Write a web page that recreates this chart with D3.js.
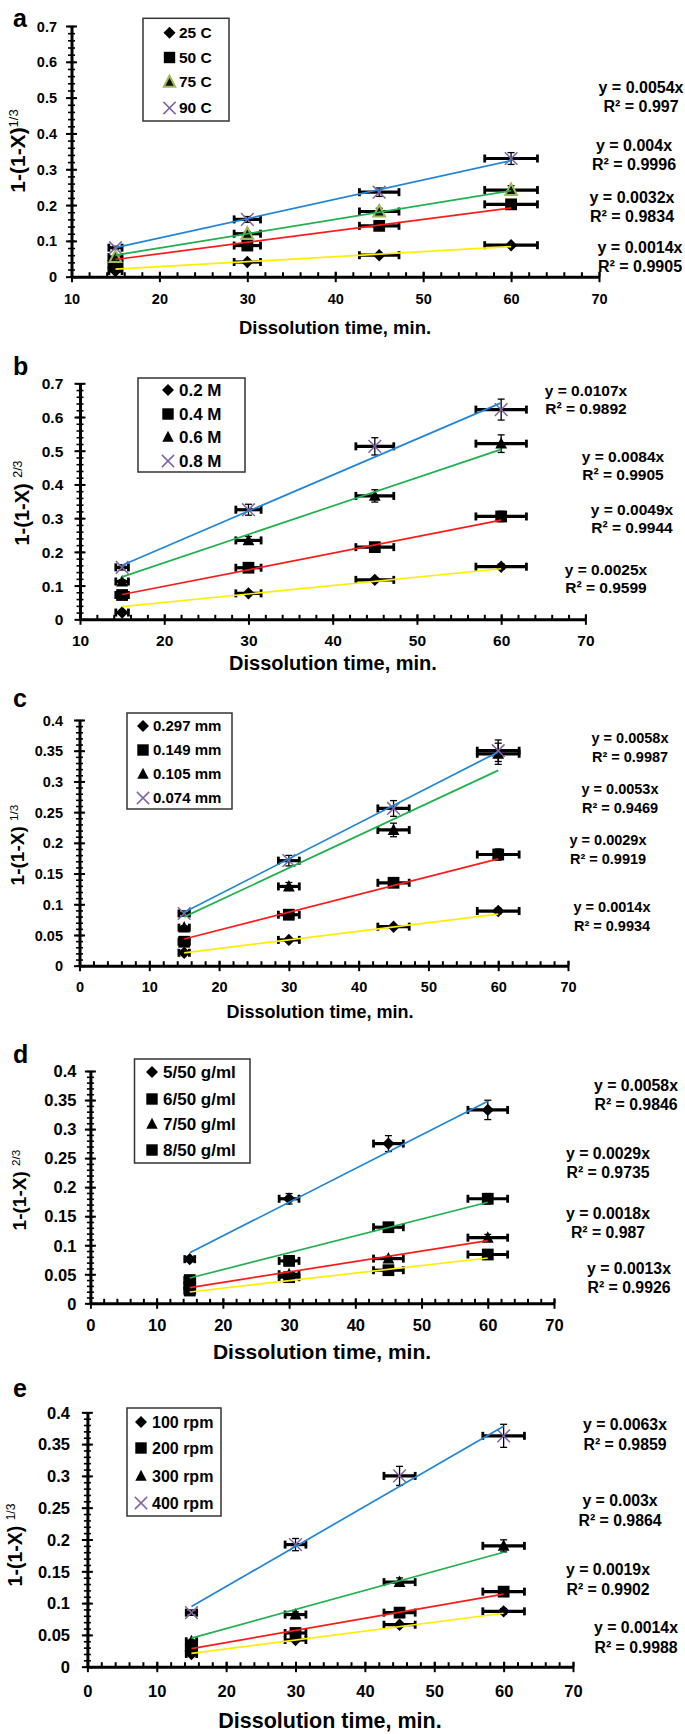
<!DOCTYPE html>
<html><head><meta charset="utf-8">
<script src="https://cdn.jsdelivr.net/npm/d3@7"></script>
<style>
body{margin:0;background:#fff}
svg{display:block}
text{font-family:"Liberation Sans",Arial,sans-serif;font-weight:bold;fill:#000}
</style>
</head><body>
<svg id="chart" width="685" height="1734"></svg>
<script>
// ---------- DATA ----------
const timeMin = [15, 30, 45, 60];
const xTicksAB = [10, 20, 30, 40, 50, 60, 70];
const xTicksCDE = [0, 10, 20, 30, 40, 50, 60, 70];
const yTicksAB = [0, 0.1, 0.2, 0.3, 0.4, 0.5, 0.6, 0.7];
const yTicksCDE = [0, 0.05, 0.1, 0.15, 0.2, 0.25, 0.3, 0.35, 0.4];
const xErrPercent = 5;
const yErrPercent = 5;

// panel a : temperature
const aNames = ["25 C", "50 C", "75 C", "90 C"];
const a25 = [0.016, 0.041, 0.060, 0.088];
const a50 = [0.035, 0.087, 0.142, 0.202];
const a75 = [0.055, 0.120, 0.182, 0.242];
const a90 = [0.081, 0.160, 0.236, 0.330];
const aSlope = [0.0014, 0.0032, 0.004, 0.0054];
const aR2 = ["0.9905", "0.9834", "0.9996", "0.997"];

// panel b : acid concentration
const bNames = ["0.2 M", "0.4 M", "0.6 M", "0.8 M"];
const b02 = [0.020, 0.077, 0.117, 0.156];
const b04 = [0.072, 0.153, 0.214, 0.305];
const b06 = [0.112, 0.234, 0.366, 0.521];
const b08 = [0.154, 0.325, 0.513, 0.622];
const bSlope = [0.0025, 0.0049, 0.0084, 0.0107];
const bR2 = ["0.9599", "0.9944", "0.9905", "0.9892"];

// panel c : particle size
const cNames = ["0.297 mm", "0.149 mm", "0.105 mm", "0.074 mm"];
const c297 = [0.021, 0.042, 0.0635, 0.089];
const c149 = [0.039, 0.083, 0.135, 0.181];
const c105 = [0.062, 0.129, 0.221, 0.345];
const c074 = [0.085, 0.171, 0.256, 0.350];
const cSlope = [0.0014, 0.0029, 0.0053, 0.0058];
const cR2 = ["0.9934", "0.9919", "0.9469", "0.9987"];

// panel d : solid/liquid ratio
const dNames = ["5/50 g/ml", "6/50 g/ml", "7/50 g/ml", "8/50 g/ml"];
const d5 = [0.076, 0.180, 0.275, 0.333];
const d6 = [0.040, 0.073, 0.131, 0.180];
const d7 = [0.030, 0.050, 0.077, 0.113];
const d8 = [0.022, 0.045, 0.057, 0.084];
const dSlope = [0.0058, 0.0029, 0.0018, 0.0013];
const dR2 = ["0.9846", "0.9735", "0.987", "0.9926"];

// panel e : stirring speed
const eNames = ["100 rpm", "200 rpm", "300 rpm", "400 rpm"];
const e100 = [0.020, 0.042, 0.066, 0.087];
const e200 = [0.029, 0.053, 0.085, 0.118];
const e300 = [0.040, 0.082, 0.133, 0.190];
const e400 = [0.085, 0.192, 0.300, 0.363];
const eSlope = [0.0014, 0.0019, 0.003, 0.0063];
const eR2 = ["0.9988", "0.9902", "0.9864", "0.9859"];

// ---------- STYLE / LAYOUT ----------
const YEL = "#ffee00", RED = "#ff1a1a", GRN = "#1fb14e", BLU = "#2185d6", PUR = "#8064A2";

const panels = [
 {letter:"a", names:aNames, vals:[a25,a50,a75,a90], slope:aSlope, r2:aR2,
  markers:["diamond","square","triangleOlive","x"], colors:[YEL,RED,GRN,BLU],
  xTicks:xTicksAB, yTicks:yTicksAB, yMinor:0.02, sup:"1/3", supSpace:false,
  left:71.5,right:599,top:26,bottom:276.7, tickFs:14.5, yLabGap:14.5, xLabOff:22.5,
  titleFs:18.5, xTitle:[335,328], yTitleFs:21, yTitle:[18,151], letterPos:[13,27],
  legend:{x:143,y:18.3,w:86,h:102.7,rows:[32.7,57.5,82,108],mx:169.5,tx:179,fs:15.5},
  eqFs:16, eqGap:19, eqPos:[[640,247],[632,197],[634,145],[641,87]]},
 {letter:"b", names:bNames, vals:[b02,b04,b06,b08], slope:bSlope, r2:bR2,
  markers:["diamond","square","triangle","x"], colors:[YEL,RED,GRN,BLU],
  xTicks:xTicksAB, yTicks:yTicksAB, yMinor:0.02, sup:"2/3", supSpace:true,
  left:80,right:585.4,top:383.3,bottom:619.3, tickFs:15.5, yLabGap:16.7, xLabOff:21.4,
  titleFs:20, xTitle:[333,663], yTitleFs:20, yTitle:[22,503], letterPos:[13,375],
  legend:{x:138,y:378,w:107,h:94,rows:[390,414,437,461],mx:168,tx:179,fs:17},
  eqFs:15.5, eqGap:17.5, eqPos:[[606,570],[632,510],[623,457],[586,391]]},
 {letter:"c", names:cNames, vals:[c297,c149,c105,c074], slope:cSlope, r2:cR2,
  markers:["diamond","square","triangle","x"], colors:[YEL,RED,GRN,BLU],
  xTicks:xTicksCDE, yTicks:yTicksCDE, yMinor:0.01, sup:"1/3", supSpace:true,
  left:79.5,right:568,top:720,bottom:965.7, tickFs:14.5, yLabGap:16.5, xLabOff:21,
  titleFs:18, xTitle:[320,1012], yTitleFs:19, yTitle:[17.5,845], letterPos:[13,707],
  legend:{x:127,y:713,w:105,h:96,rows:[726,750,774,798],mx:143,tx:153,fs:15},
  eqFs:14.5, eqGap:18.5, eqPos:[[612,907],[608,840],[620,789],[630,738]]},
 {letter:"d", names:dNames, vals:[d5,d6,d7,d8], slope:dSlope, r2:dR2,
  markers:["diamond","square","triangle","square"], colors:[BLU,GRN,RED,YEL],
  xTicks:xTicksCDE, yTicks:yTicksCDE, yMinor:0.01, sup:"2/3", supSpace:true,
  left:90.4,right:554,top:1071,bottom:1303.3, tickFs:16.5, yLabGap:14, xLabOff:21.7,
  titleFs:21, xTitle:[322,1352], yTitleFs:19, yTitle:[19.6,1190], letterPos:[13,1063],
  legend:{x:134.5,y:1059,w:115.5,h:104,rows:[1072,1099,1124,1150],mx:152,tx:163,fs:17},
  eqFs:15.8, eqGap:19, eqPos:[[636,1085],[608,1153],[608,1213],[629,1268]]},
 {letter:"e", names:eNames, vals:[e100,e200,e300,e400], slope:eSlope, r2:eR2,
  markers:["diamond","square","triangle","x"], colors:[YEL,RED,GRN,BLU],
  xTicks:xTicksCDE, yTicks:yTicksCDE, yMinor:0.01, sup:"1/3", supSpace:true,
  left:87.4,right:573,top:1412.3,bottom:1666.7, tickFs:16.5, yLabGap:17.4, xLabOff:25,
  titleFs:21.5, xTitle:[330,1720], yTitleFs:19.5, yTitle:[15.3,1545], letterPos:[13,1397],
  legend:{x:127,y:1408,w:94,h:108,rows:[1422,1448,1476,1503],mx:141,tx:152,fs:16},
  eqFs:15.8, eqGap:20, eqPos:[[636,1627],[608,1569],[620,1500],[625,1424]]}
];

const svg = d3.select("#chart");

function markerPath(type, r) {
  if (type === "diamond") return `M0,${-r}L${r},0L0,${r}L${-r},0Z`;
  if (type === "square") { const s = r * 0.95; return `M${-s},${-s}H${s}V${s}H${-s}Z`; }
  if (type === "triangle" || type === "triangleOlive") return `M0,${-r*1.05}L${r*0.95},${r*0.8}L${-r*0.95},${r*0.8}Z`;
  const s = r * 1.02;
  return `M${-s},${-s}L${s},${s}M${s},${-s}L${-s},${s}`;
}
function drawMarker(g, type, cx, cy, r) {
  const p = g.append("path").attr("d", markerPath(type, r)).attr("transform", `translate(${cx},${cy})`);
  if (type === "x") p.attr("fill", "none").attr("stroke", PUR).attr("stroke-width", 1.5);
  else if (type === "triangleOlive") p.attr("fill", "#111").attr("stroke", "#9BBB59").attr("stroke-width", 2);
  else p.attr("fill", "#000");
}
const fmtTick = d => String(+d.toFixed(2));

panels.forEach(p => {
  const g = svg.append("g");
  const xDom = [p.xTicks[0], p.xTicks[p.xTicks.length - 1]];
  const yDom = [p.yTicks[0], p.yTicks[p.yTicks.length - 1]];
  const x = d3.scaleLinear().domain(xDom).range([p.left, p.right]);
  const y = d3.scaleLinear().domain(yDom).range([p.bottom, p.top]);

  // minor ticks
  const xMinor = d3.range(xDom[0], xDom[1] + 0.001, 2);
  const yMinor = d3.range(yDom[0], yDom[1] + 1e-6, p.yMinor);
  g.append("g").attr("transform", `translate(0,${p.bottom})`)
    .call(d3.axisBottom(x).tickValues(xMinor).tickSize(-4.5).tickFormat(""))
    .call(s => s.select(".domain").remove())
    .selectAll("line").attr("stroke", "#000").attr("stroke-width", 2);
  g.append("g").attr("transform", `translate(${p.left},0)`)
    .call(d3.axisLeft(y).tickValues(yMinor).tickSize(3.5).tickFormat(""))
    .call(s => s.select(".domain").remove())
    .selectAll("line").attr("x1", 3.5).attr("stroke", "#000").attr("stroke-width", 1.6);

  // major axes
  const gx = g.append("g").attr("transform", `translate(0,${p.bottom})`)
    .call(d3.axisBottom(x).tickValues(p.xTicks).tickSize(5).tickSizeOuter(0).tickFormat(d3.format("d")));
  gx.attr("font-family", null).attr("font-size", null);
  gx.select(".domain").attr("stroke", "#000").attr("stroke-width", 3);
  gx.selectAll(".tick line").attr("y1", -5).attr("y2", 5.5).attr("stroke", "#000").attr("stroke-width", 2);
  gx.selectAll(".tick text").attr("y", p.xLabOff).attr("dy", "0.35em").style("font-size", p.tickFs + "px");

  const gy = g.append("g").attr("transform", `translate(${p.left},0)`)
    .call(d3.axisLeft(y).tickValues(p.yTicks).tickSize(5).tickSizeOuter(0).tickFormat(fmtTick));
  gy.attr("font-family", null).attr("font-size", null);
  gy.select(".domain").attr("stroke", "#000").attr("stroke-width", 3);
  gy.selectAll(".tick line").attr("x1", 5.5).attr("x2", -5.5).attr("stroke", "#000").attr("stroke-width", 2);
  gy.selectAll(".tick text").attr("x", -p.yLabGap).attr("dy", "0.35em").style("font-size", p.tickFs + "px");

  // error bars
  const eb = g.append("g");
  p.vals.forEach(series => {
    series.forEach((v, i) => {
      const t = timeMin[i];
      const xe = t * xErrPercent / 100, ye = v * yErrPercent / 100;
      const cy = y(v), cx = x(t);
      eb.append("line").attr("x1", x(t - xe)).attr("x2", x(t + xe)).attr("y1", cy).attr("y2", cy)
        .attr("stroke", "#000").attr("stroke-width", 3.2);
      [t - xe, t + xe].forEach(tt => eb.append("line").attr("x1", x(tt)).attr("x2", x(tt))
        .attr("y1", cy - 4).attr("y2", cy + 4).attr("stroke", "#000").attr("stroke-width", 2.8));
      eb.append("line").attr("x1", cx).attr("x2", cx).attr("y1", y(v - ye)).attr("y2", y(v + ye))
        .attr("stroke", "#000").attr("stroke-width", 1.3);
      [v - ye, v + ye].forEach(vv => eb.append("line").attr("x1", cx - 3.5).attr("x2", cx + 3.5)
        .attr("y1", y(vv)).attr("y2", y(vv)).attr("stroke", "#000").attr("stroke-width", 1.3));
    });
  });

  // markers
  const mk = g.append("g");
  p.vals.forEach((series, si) => {
    series.forEach((v, i) => drawMarker(mk, p.markers[si], x(timeMin[i]), y(v), 6.2));
  });

  // trend lines (y = slope * x over the data range)
  const line = d3.line().x(d => x(d[0])).y(d => y(d[1]));
  p.slope.forEach((s, si) => {
    const t0 = timeMin[0], t1 = timeMin[timeMin.length - 1];
    g.append("path").attr("d", line([[t0, s * t0], [t1, s * t1]]))
      .attr("fill", "none").attr("stroke", p.colors[si]).attr("stroke-width", 1.7);
  });

  // equations
  p.slope.forEach((s, si) => {
    const [ex, ey] = p.eqPos[si];
    g.append("text").attr("x", ex).attr("y", ey).attr("dy", "0.35em").attr("text-anchor", "middle")
      .style("font-size", p.eqFs + "px").text(`y = ${s}x`);
    g.append("text").attr("x", ex).attr("y", ey + p.eqGap).attr("dy", "0.35em").attr("text-anchor", "middle")
      .style("font-size", p.eqFs + "px").text(`R² = ${p.r2[si]}`);
  });

  // legend
  const L = p.legend;
  g.append("rect").attr("x", L.x).attr("y", L.y).attr("width", L.w).attr("height", L.h)
    .attr("fill", "#fff").attr("stroke", "#333").attr("stroke-width", 1.5);
  p.names.forEach((n, i) => {
    drawMarker(g, p.markers[i], L.mx, L.rows[i], 6);
    g.append("text").attr("x", L.tx).attr("y", L.rows[i]).attr("dy", "0.35em")
      .style("font-size", L.fs + "px").text(n);
  });

  // titles
  g.append("text").attr("x", p.xTitle[0]).attr("y", p.xTitle[1]).attr("dy", "0.35em")
    .attr("text-anchor", "middle").style("font-size", p.titleFs + "px").text("Dissolution time, min.");
  const yt = g.append("text").attr("transform", `translate(${p.yTitle[0]},${p.yTitle[1]}) rotate(-90)`)
    .attr("dy", "0.35em").attr("text-anchor", "middle").style("font-size", p.yTitleFs + "px");
  yt.append("tspan").text("1-(1-X)" + (p.supSpace ? " " : ""));
  yt.append("tspan").attr("dy", "-0.55em").style("font-size", "0.62em").style("font-weight", "normal").text(p.sup);

  g.append("text").attr("x", p.letterPos[0]).attr("y", p.letterPos[1])
    .style("font-size", "25px").text(p.letter);
});
</script>
</body></html>
